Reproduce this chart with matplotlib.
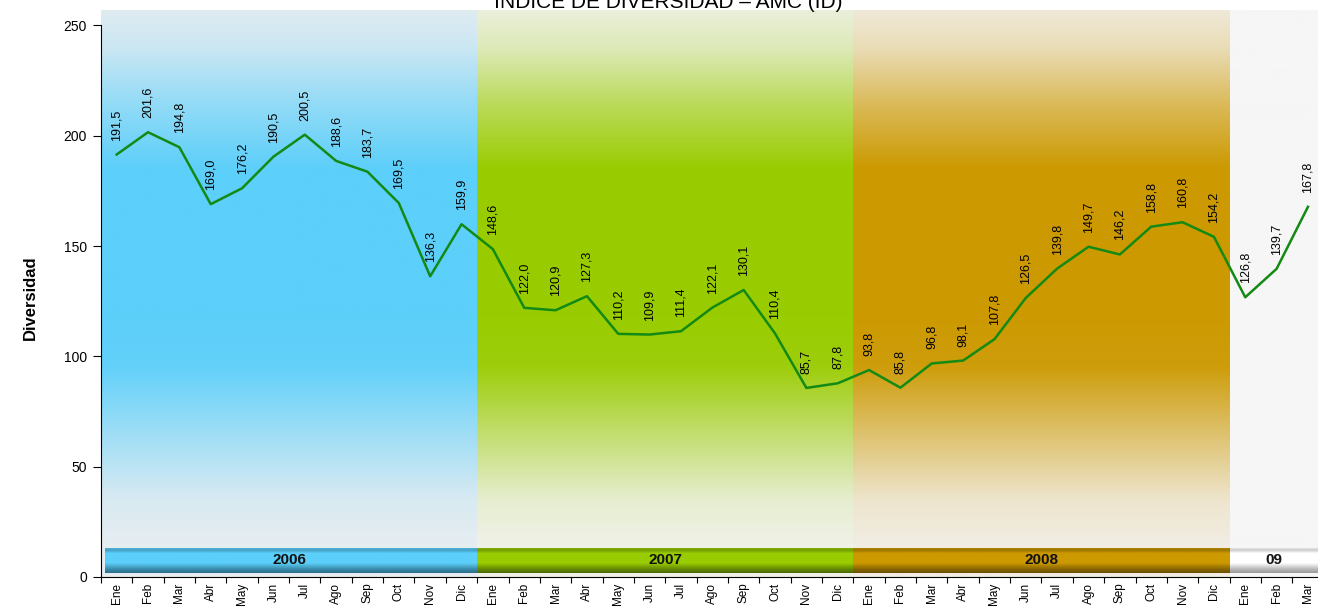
import numpy as np
import matplotlib
matplotlib.use("Agg")
import matplotlib.pyplot as plt
from matplotlib.colors import to_rgb

plt.rcParams['font.family'] = ['Liberation Sans', 'DejaVu Sans']

months = ["Ene", "Feb", "Mar", "Abr", "May", "Jun", "Jul", "Ago", "Sep", "Oct", "Nov", "Dic"]
years = ["2006", "2007", "2008", "09"]
months_per_year = [12, 12, 12, 3]

values_2006 = [191.5, 201.6, 194.8, 169.0, 176.2, 190.5, 200.5, 188.6, 183.7, 169.5, 136.3, 159.9]
values_2007 = [148.6, 122.0, 120.9, 127.3, 110.2, 109.9, 111.4, 122.1, 130.1, 110.4, 85.7, 87.8]
values_2008 = [93.8, 85.8, 96.8, 98.1, 107.8, 126.5, 139.8, 149.7, 146.2, 158.8, 160.8, 154.2]
values_2009 = [126.8, 139.7, 167.8]

band_light = ["#e6edf1", "#eff1e6", "#f1ede3", "#f6f6f6"]
band_sat = ["#5ccffa", "#99cc00", "#cc9900", "#f6f6f6"]
bar_sat = ["#5ccffa", "#99cc00", "#cc9900", "#ffffff"]
bar_dark = ["#2a6f8a", "#4d6b00", "#6b5000", "#9a9a9a"]

values = values_2006 + values_2007 + values_2008 + values_2009
labels = []
for n in months_per_year:
    labels += months[:n]
n_pts = len(values)
x = np.arange(n_pts)

W, H = 1318, 612
fig = plt.figure(figsize=(W / 100, H / 100), dpi=100)
fig.patch.set_facecolor("white")
ax = fig.add_axes([101 / W, 35 / H, (W - 101) / W, (577 - 10) / H])

ymax = 257
ax.set_xlim(-0.5, 38.32)
ax.set_ylim(0, ymax)

# background gradient bands
yy = np.linspace(0, ymax, 400)
wprof = np.interp(yy, [0, 15, 35, 60, 95, 120, 185, 215, 240, 257],
                      [0.0, 0.0, 0.1, 0.45, 0.95, 1.0, 1.0, 0.6, 0.2, 0.05])
bar_y = np.linspace(0, 1, 60)
bprof = np.interp(bar_y, [0, 0.15, 0.4, 0.8, 0.92, 1.0], [1.0, 0.7, 0.0, 0.0, 0.5, 0.3])
start = -0.5
for i, n in enumerate(months_per_year):
    end = start + n
    lo = np.array(to_rgb(band_light[i]))
    hi = np.array(to_rgb(band_sat[i]))
    img = lo[None, :] * (1 - wprof[:, None]) + hi[None, :] * wprof[:, None]
    ax.imshow(img[:, None, :], extent=(start, end, 0, ymax), origin="lower",
              aspect="auto", zorder=0, interpolation="bilinear")
    # year bar
    bs = np.array(to_rgb(bar_sat[i]))
    bd = np.array(to_rgb(bar_dark[i]))
    bimg = bs[None, :] * (1 - bprof[:, None]) + bd[None, :] * bprof[:, None]
    x0 = start + (0.12 if i == 0 else 0.0)
    ax.imshow(bimg[:, None, :], extent=(x0, end, 2, 13.2), origin="lower",
              aspect="auto", zorder=1, interpolation="bilinear")
    ax.text((start + min(end, 38.32)) / 2, 7.6, years[i], ha="center", va="center",
            fontsize=11, fontweight="bold", color="#111111", zorder=2)
    start = end
ax.set_xlim(-0.5, 38.32)

# line
ax.plot(x, values, color="#138a13", linewidth=1.8, zorder=3)

# data labels
for xi, v in zip(x, values):
    ax.annotate(f"{v:.1f}".replace(".", ","), (xi, v), xytext=(0, 14),
                textcoords="offset pixels", rotation=90, ha="center", va="bottom",
                fontsize=9, color="black", zorder=4)

# axes styling
for s in ["top", "right"]:
    ax.spines[s].set_visible(False)
ax.spines["left"].set_bounds(0, 250)
ax.spines["left"].set_color("black")
ax.spines["bottom"].set_color("black")

ax.set_yticks([0, 50, 100, 150, 200, 250])
ax.tick_params(axis="y", direction="out", length=6, labelsize=10, pad=4)

ax.set_xticks(np.arange(-0.5, 38.0, 1.0))
ax.set_xticklabels([])
ax.tick_params(axis="x", which="major", direction="out", length=4)
ax.set_xticks(x, minor=True)
ax.set_xticklabels(labels, minor=True, rotation=90, fontsize=8.5)
ax.tick_params(axis="x", which="minor", length=0, pad=4)

fig.text(30 / W, (612 - 298) / H, "Diversidad", rotation=90, ha="center", va="center",
         fontsize=12, fontweight="bold")

fig.text(668 / W, 1 - 8 / H, "ÍNDICE DE DIVERSIDAD – AMC (ID)", ha="center",
         va="baseline", fontsize=15)

fig.savefig("out.png", dpi=100)
